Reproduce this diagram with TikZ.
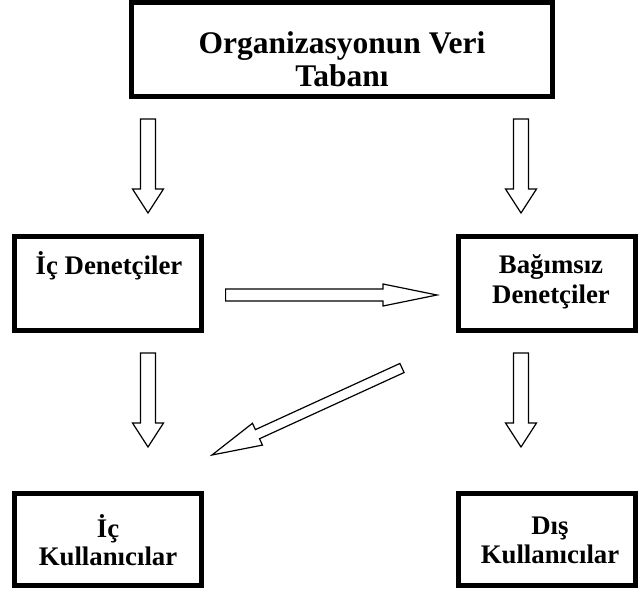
\documentclass[tikz,border=0pt]{standalone}
\usepackage{fontspec}
\setmainfont{Liberation Serif}
\usetikzlibrary{calc}

\tikzset{
	box/.style={draw, line width=5pt, inner sep=0pt},
	boxtext/.style={font=\bfseries\fontsize{26.8}{30}\selectfont, align=center, inner sep=0pt},
	hollow/.style={draw, line width=1.2pt, line join=miter, fill=white},
}

% hollow block arrow: from, to, half shaft, half head, head length
\newcommand{\blockarrow}[5]{%
	\coordinate (ba) at ($(#2)!#5!(#1)$);
	\draw[hollow] ($(#1)!#3!90:(#2)$) -- ($(ba)!#3!90:(#2)$) -- ($(ba)!#4!90:(#2)$) -- (#2)
		-- ($(ba)!#4!-90:(#2)$) -- ($(ba)!#3!-90:(#2)$) -- ($(#1)!#3!-90:(#2)$) -- cycle;
}

\begin{document}
\begin{tikzpicture}[x=1pt, y=-1pt]
	\useasboundingbox (0,0) rectangle (639,594);

	%Boxes
	\node[box, minimum width=421pt, minimum height=94pt] (veritabani) at (342,49.5) {};
	\node[box, minimum width=187pt, minimum height=94pt] (icdenetci) at (108,283.5) {};
	\node[box, minimum width=177pt, minimum height=94pt] (bagimsiz) at (547,283) {};
	\node[box, minimum width=187pt, minimum height=92pt] (ickullanici) at (108,539.5) {};
	\node[box, minimum width=177pt, minimum height=92pt] (diskullanici) at (547,539.5) {};

	%Texts
	\node[boxtext, font=\bfseries\fontsize{31.5}{33}\selectfont] (tveritabani) at (342,59) {Organizasyonun Veri\\Tabanı};
	\node[boxtext, anchor=base] (ticdenetci) at (109,274) {İç Denetçiler};
	\node[boxtext] (tbagimsiz) at (551,282) {Bağımsız\\Denetçiler};
	\node[boxtext, font=\bfseries\fontsize{26.8}{28}\selectfont] (tickullanici) at (108,540) {İç\\Kullanıcılar};
	\node[boxtext, font=\bfseries\fontsize{26.8}{29}\selectfont] (tdiskullanici) at (550,540) {Dış\\Kullanıcılar};

	%Arrows
	\coordinate (tl0) at (148,119);
	\coordinate (tl1) at (148,213);
	\coordinate (tr0) at (521,119);
	\coordinate (tr1) at (521,213);
	\coordinate (h0) at (225.6,295);
	\coordinate (h1) at (437,295);
	\coordinate (bl0) at (148,353);
	\coordinate (bl1) at (148,447);
	\coordinate (br0) at (521,353);
	\coordinate (br1) at (521,447);
	\coordinate (d0) at (402,368);
	\coordinate (d1) at (212,455);

	\blockarrow{tl0}{tl1}{7.5pt}{15.5pt}{24pt}
	\blockarrow{tr0}{tr1}{7.5pt}{15.5pt}{24pt}
	\blockarrow{h0}{h1}{6pt}{11pt}{54pt}
	\blockarrow{bl0}{bl1}{7.5pt}{15.5pt}{24pt}
	\blockarrow{br0}{br1}{7.5pt}{15.5pt}{24pt}
	\blockarrow{d0}{d1}{5pt}{12pt}{50pt}
\end{tikzpicture}
\end{document}
